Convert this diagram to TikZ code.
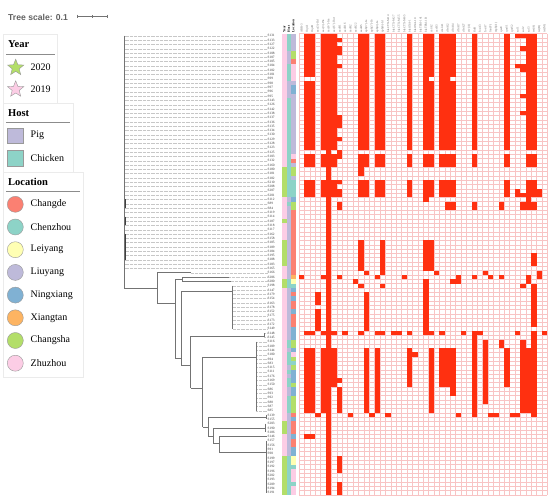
\documentclass[tikz,border=0pt]{standalone}
\usepackage{fontspec}
\setmainfont{Liberation Serif}
\newfontfamily\scalefont{Liberation Sans}
\usetikzlibrary{shapes.geometric,calc}

% colours of the strips and the legend
\definecolor{yA}{HTML}{B3DE69}   % 2020
\definecolor{yB}{HTML}{FCCDE5}   % 2019
\definecolor{pig}{HTML}{BEBADA}
\definecolor{chk}{HTML}{8DD3C7}
\definecolor{cd}{HTML}{FB8072}
\definecolor{cz}{HTML}{8DD3C7}
\definecolor{ly}{HTML}{FFFFB3}
\definecolor{lu}{HTML}{BEBADA}
\definecolor{nx}{HTML}{80B1D3}
\definecolor{xt}{HTML}{FDB462}
\definecolor{cs}{HTML}{B3DE69}
\definecolor{zz}{HTML}{FCCDE5}
\definecolor{hitred}{HTML}{FF3010}
\definecolor{gridpink}{HTML}{F8C4C4}

% row centre and column left edge of the heatmap
\pgfmathdeclarefunction{ry}{1}{\pgfmathparse{35.7+4.31*(#1-1)}}
\pgfmathdeclarefunction{cx}{1}{\pgfmathparse{299+5.4*#1}}

\tikzset{
  branch/.style={draw=black!55, line width=0.6pt},
  lead/.style={draw=black!22, line width=0.25pt, dash pattern=on 0.4pt off 0.9pt},
  leaf/.style={anchor=west, inner sep=0pt, font=\fontsize{3.4}{3.4}\selectfont, text=black!80},
  gene/.style={rotate=90, anchor=west, inner sep=0pt, font=\fontsize{3}{3}\selectfont, text=black!60},
  stripname/.style={rotate=90, anchor=west, inner sep=0pt, font=\fontsize{3.4}{3.4}\selectfont\bfseries},
  gridline/.style={draw=gridpink, line width=0.4pt},
  hit/.style={fill=hitred},
  legbox/.style={draw=black!8, fill=white, line width=0.4pt},
  legtitle/.style={anchor=west, inner sep=0pt, font=\fontsize{10.5}{12}\selectfont\bfseries},
  legitem/.style={anchor=west, inner sep=0pt, font=\fontsize{10}{12}\selectfont},
  legrule/.style={draw=black!45, line width=0.5pt},
  yearstar/.style={star, star points=5, star point ratio=2.3, minimum size=17pt, inner sep=0pt, draw=black!40, line width=0.4pt},
  hostsq/.style={minimum size=15.5pt, inner sep=0pt, draw=black!40, line width=0.4pt},
  locdot/.style={circle, minimum size=16pt, inner sep=0pt, draw=black!40, line width=0.4pt},
}

\begin{document}
\begin{tikzpicture}[x=1pt,y=-1pt]
    \useasboundingbox (0,0) rectangle (550,499);

    % Tree scale
    \node[anchor=west, inner sep=0pt, font=\scalefont\fontsize{8.6}{10}\selectfont\bfseries, text=black!62] (scale) at (8,17) {Tree scale: 0.1};
    \coordinate (sa) at (77,16.5);
    \coordinate (sb) at (107,16.5);
    \draw[black!55, line width=0.5pt] (sa) -- (sb);
    \draw[black!55, line width=0.5pt] (sa) ++(0,-1.8) -- ++(0,3.6);
    \draw[black!55, line width=0.5pt] (sb) ++(0,-1.8) -- ++(0,3.6);
    \draw[black!55, line width=0.4pt] ($(sa)!0.5!(sb)$) ++(0,-1.2) -- ++(0,2.4);

    % Legend: Year
    \draw[legbox] (3,34.3) rectangle (57,103.3);
    \node[legtitle] (tyear) at (8,44) {Year};
    \draw[legrule] (6,54) -- (55,54);
    \node[yearstar, fill=yA] (s2020) at (15.7,67.7) {};
    \node[legitem] at (30.5,67.7) {2020};
    \node[yearstar, fill=yB] (s2019) at (15.7,89.3) {};
    \node[legitem] at (30.5,89.3) {2019};

    % Legend: Host
    \draw[legbox] (3,103.3) rectangle (73,172);
    \node[legtitle] (thost) at (8,112.7) {Host};
    \draw[legrule] (6,122.3) -- (70,122.3);
    \node[hostsq, fill=pig] (hpig) at (15.3,135.5) {};
    \node[legitem] at (30.5,135.5) {Pig};
    \node[hostsq, fill=chk] (hchk) at (15.3,158) {};
    \node[legitem] at (30.5,158) {Chicken};

    % Legend: Location
    \draw[legbox] (3,172) rectangle (83,377);
    \node[legtitle] (tloc) at (8,181.7) {Location};
    \draw[legrule] (6,191.7) -- (80,191.7);
    \foreach \lc/\name [count=\k from 0] in {cd/Changde, cz/Chenzhou, ly/Leiyang, lu/Liuyang,
        nx/Ningxiang, xt/Xiangtan, cs/Changsha, zz/Zhuzhou} {
      \node[locdot, fill=\lc] (d\lc) at (15.3,{204.3+22.7*\k}) {};
      \node[legitem] at (30.5,{204.3+22.7*\k}) {\name};
    }

    % Heatmap grid
    \foreach \cc in {0,...,46}
      \draw[gridline] ({cx(\cc)},{ry(1)-2.155}) -- ({cx(\cc)},{ry(107)+2.155});
    \foreach \ra in {0,...,107}
      \draw[gridline] ({cx(0)},{ry(\ra)+2.155}) -- ({cx(46)},{ry(\ra)+2.155});

    % Genes found: column/first row/last row
    \foreach \cc/\ra/\rb in {5/1/107,
        7/2/2, 7/4/5, 7/8/8, 7/20/22, 7/25/25, 7/28/29, 7/35/35, 7/37/38, 7/40/41, 7/57/57,
        7/81/81, 7/83/88, 7/99/102, 7/105/107,
        11/32/33, 11/49/55, 11/59/59, 11/70/70,
        32/1/27, 32/29/31, 32/40/41, 32/57/57, 32/70/89,
        40/1/1, 40/8/8, 40/37/38, 40/70/70, 40/89/89,
        41/1/1, 41/4/4, 41/8/9, 41/15/15, 41/19/19, 41/38/38, 41/40/41, 41/59/59, 41/72/88,
        44/37/38, 44/56/57,
        42/39/39, 42/40/41, 42/57/58, 42/74/88,
        43/40/41, 43/52/54, 43/59/68, 43/70/89,
        23/39/39, 23/49/55, 23/58/70,
        24/49/55, 24/70/70, 24/74/88,
        15/49/56, 15/59/59, 15/70/70,
        12/56/56, 12/61/69, 12/74/88,
        3/61/63, 3/65/69, 3/89/89,
        27/40/41, 27/74/82, 28/40/41, 28/58/58, 28/74/84,
        37/40/41, 37/57/57, 37/72/73,
        0/57/57, 4/57/57, 4/70/70, 4/74/88, 14/57/57, 14/70/70, 14/74/88,
        19/57/57, 29/57/58, 29/89/89, 35/57/57, 35/89/89, 10/58/58, 25/56/56,
        34/56/56, 34/72/86,
        1/70/70, 1/74/88, 1/94/94, 2/70/70, 2/74/88, 2/94/94, 6/70/70, 6/74/82,
        8/70/70, 17/70/70, 18/70/70, 20/70/70, 20/74/82, 26/70/70, 26/74/82,
        30/70/70, 33/70/70, 45/70/70, 38/74/82, 21/75/75,
        9/89/89, 13/89/89, 16/89/89, 36/89/89, 39/89/89}
      \fill[hit] ({cx(\cc)},{ry(\ra)-2.155}) rectangle ({cx(\cc)+5.4},{ry(\rb)+2.155});
    % the large block shared by the upper clusters
    \foreach \cc in {4,6,11,12,14,15,20,23,26,27,38,42,43}
      \foreach \ra/\rb in {1/27, 29/31, 35/38}
        \fill[hit] ({cx(\cc)},{ry(\ra)-2.155}) rectangle ({cx(\cc)+5.4},{ry(\rb)+2.155});
    \foreach \cc in {1,2,24,28}
      \foreach \ra/\rb in {1/10, 12/27, 29/31, 35/38}
        \fill[hit] ({cx(\cc)},{ry(\ra)-2.155}) rectangle ({cx(\cc)+5.4},{ry(\rb)+2.155});

    % Gene names
    \foreach \g [count=\k from 0] in {ARR-3, OqxA, OqxB, aac(3)-IId, aac(3)-IVa, aac(6')-Iaa,
        aac(6')-Ib-cr, aadA1, aadA16, aadA2, aadA22, aadA5, aph(3')-Ia, aph(3'')-Ib, aph(4)-Ia,
        aph(6)-Id, blaCTX-M-14, blaCTX-M-27, blaCTX-M-55, blaCTX-M-65, blaOXA-1, blaOXA-10,
        blaTEM-141, blaTEM-1B, catA2, catB3, cmlA1, dfrA12, dfrA14, dfrA17, dfrA27, ere(A),
        floR, fosA3, fosA7, lnu(F), mph(A), qacE, qnrS1, qnrS2, sul1, sul2, sul3, tet(A),
        tet(B), tet(M)}
      \node[gene] (g\k) at ({cx(\k)+2.7},32.6) {\g};
    \node[stripname] (hyear) at (284.2,32.6) {Year};
    \node[stripname] (hhost) at (288.7,32.6) {Host};
    \node[stripname] (hloc) at (293.2,32.6) {Location};

    % Strips and isolate names
    \foreach \lab/\yr/\hs/\lc [count=\i] in {S131/yB/chk/lu, S133/yB/chk/lu, S127/yB/chk/lu,
        S122/yB/chk/lu, S108/yB/pig/cs, S107/yB/pig/cs, S105/yB/pig/cd, S104/yB/chk/zz,
        S102/yB/chk/zz, S101/yB/chk/zz, S99/yB/chk/zz, S98/yB/pig/lu, S97/yB/pig/nx,
        S96/yB/pig/nx, S95/yB/pig/lu, S143/yB/chk/lu, S126/yB/chk/lu, S142/yB/chk/lu,
        S138/yB/chk/lu, S137/yB/chk/lu, S136/yB/chk/lu, S135/yB/chk/lu, S134/yB/chk/lu,
        S130/yB/chk/lu, S129/yB/chk/lu, S128/yB/chk/lu, S123/yB/chk/lu, S125/yB/chk/lu,
        S103/yB/chk/zz, S132/yB/chk/cd, S160/yB/chk/lu, S180/yA/chk/cs, S181/yA/chk/cs,
        S182/yA/chk/lu, S210/yA/chk/cz, S208/yA/chk/cz, S207/yA/chk/cz, S201/yA/chk/cz,
        S112/yB/pig/nx, S89/yB/chk/cs, S84/yB/pig/cs, S119/yB/pig/cd, S114/yB/pig/cd,
        S187/yA/pig/cd, S118/yB/pig/cd, S117/yB/pig/cd, S162/yB/pig/cd, S158/yB/pig/cd,
        S185/yA/pig/cd, S189/yA/pig/cd, S184/yA/pig/cd, S195/yA/pig/cd, S188/yA/pig/cd,
        S183/yA/pig/cd, S165/yB/pig/cd, S166/yB/pig/cd, S206/yB/pig/xt, S200/yA/chk/ly,
        S198/yA/chk/cz, S147/yB/pig/nx, S179/yB/pig/cd, S154/yB/pig/nx, S163/yB/pig/cd,
        S178/yB/pig/cd, S152/yB/pig/nx, S175/yB/pig/cd, S173/yB/pig/cd, S172/yB/pig/cd,
        S149/yB/pig/nx, S148/yB/pig/nx, S145/yB/pig/nx, S116/yB/chk/cs, S109/yB/chk/cs,
        S144/yB/pig/nx, S100/yB/chk/zz, S94/yB/chk/cs, S83/yB/chk/cz, S115/yB/pig/cs,
        S111/yB/chk/nx, S176/yB/pig/nx, S169/yB/chk/nx, S150/yB/chk/cs, S86/yB/pig/nx,
        S93/yB/pig/nx, S92/yB/chk/cs, S88/yB/chk/cs, S87/yB/chk/cs, S85/yB/chk/cs,
        S139/yB/pig/cd, S155/yB/pig/nx, S203/yA/pig/cd, S190/yA/pig/cd, S186/yA/pig/cd,
        S146/yB/pig/nx, S157/yB/pig/cd, S156/yB/pig/cd, S91/yB/pig/nx, S90/yB/pig/nx,
        S199/yA/chk/ly, S197/yA/chk/ly, S192/yA/chk/cz, S196/yA/chk/zz, S202/yA/chk/zz,
        S193/yA/chk/zz, S209/yA/chk/cz, S194/yA/chk/zz, S191/yA/chk/zz} {
      \fill[\yr] (282,{ry(\i)-2.155}) rectangle (286.5,{ry(\i)+2.155});
      \fill[\hs] (286.5,{ry(\i)-2.155}) rectangle (291,{ry(\i)+2.155});
      \fill[\lc] (291,{ry(\i)-2.155}) rectangle (295.5,{ry(\i)+2.155});
      \node[leaf] (l\i) at (267.5,{ry(\i)}) {\lab};
    }

    % Leader lines from the branch tips to the names
    \foreach \ra/\rb/\tx in {1/55/124.5, 56/56/190.7, 57/57/229, 58/58/230.7, 59/69/232.7,
        70/71/264, 72/88/256}
      \foreach \i in {\ra,...,\rb}
        \draw[lead] (\tx,{ry(\i)}) -- (l\i.west);

    % Tree
    \coordinate (root) at (124.5,288);
    \coordinate (n1) at (157,288);
    \coordinate (n2) at (175,303);
    \coordinate (n3) at (182,279.3);
    \coordinate (n4) at (181,358);
    \coordinate (n5) at (232.7,291.7);
    \coordinate (n6) at (190.7,365);
    \coordinate (n7) at (264,336);
    \coordinate (n8) at (202.7,388);
    \coordinate (n9) at (256,357);
    \coordinate (n10) at (208,427);
    \coordinate (n11) at (266.7,417);
    \coordinate (n12) at (213,436);
    \coordinate (n13) at (265.7,428);
    \coordinate (n14) at (219,443);
    \coordinate (n15) at (266.7,452);
    \draw[branch] (124.5,{ry(1)}) -- (root) -- (n1);
    \draw[branch] (157,{ry(56)}) -- (n1 |- n2) -- (n2);
    \draw[branch] (157,{ry(56)}) -- (190.7,{ry(56)});
    \draw[branch] (175,279.3) -- (175,358);
    \draw[branch] (175,279.3) -- (n3);
    \draw[branch] (182,{ry(57)}) -- (182,{ry(58)});
    \draw[branch] (182,{ry(57)}) -- (229,{ry(57)});
    \draw[branch] (182,{ry(58)}) -- (230.7,{ry(58)});
    \draw[branch] (175,358) -- (n4);
    \draw[branch] (181,291.7) -- (181,365);
    \draw[branch] (181,291.7) -- (n5);
    \draw[branch] (232.7,{ry(59)}) -- (232.7,{ry(69)});
    \draw[branch] (181,365) -- (n6);
    \draw[branch] (190.7,336) -- (190.7,388);
    \draw[branch] (190.7,336) -- (n7);
    \draw[branch] (264,{ry(70)}) -- (264,{ry(71)});
    \draw[branch] (190.7,388) -- (n8);
    \draw[branch] (202.7,357) -- (202.7,427);
    \draw[branch] (202.7,357) -- (n9);
    \draw[branch] (256,{ry(72)}) -- (256,{ry(88)});
    \draw[branch] (202.7,427) -- (n10);
    \draw[branch] (208,417) -- (208,436);
    \draw[branch] (208,417) -- (n11);
    \draw[branch] (266.7,{ry(89)}) -- (266.7,{ry(90)});
    \draw[branch] (208,436) -- (n12);
    \draw[branch] (213,428) -- (213,443);
    \draw[branch] (213,428) -- (n13);
    \draw[branch] (265.7,{ry(91)}) -- (265.7,{ry(93)});
    \draw[branch] (213,443) -- (n14);
    \draw[branch] (219,{ry(94)}) -- (219,452);
    \draw[branch] (219,{ry(94)}) -- (266.7,{ry(94)});
    \draw[branch] (219,452) -- (n15);
    \draw[branch] (266.7,{ry(95)}) -- (266.7,{ry(107)});
    % tiny clusters on the root
    \foreach \ra/\rb in {39/41, 43/45, 47/53}
      \draw[black!75, line width=1.1pt] (125.3,{ry(\ra)}) -- (125.3,{ry(\rb)});
\end{tikzpicture}
\end{document}
